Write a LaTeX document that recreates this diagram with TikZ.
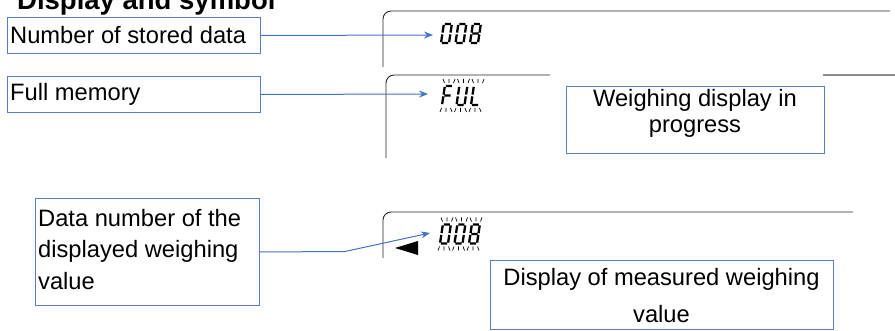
\documentclass[tikz,border=0pt]{standalone}
\usepackage{fontspec}
\setmainfont{Liberation Sans}
\usetikzlibrary{arrows.meta}
\definecolor{cblue}{HTML}{4472C4}
\definecolor{bblue}{HTML}{5A7EC0}
\tikzset{
  box/.style={draw=bblue, line width=1pt, fill=white, inner sep=0pt, anchor=north west},
  txt/.style={inner sep=0pt, font=\fontsize{23.7}{30}\selectfont},
  conn/.style={draw=cblue, line width=1pt, -{Stealth[length=9pt,width=7pt,inset=3pt]}},
  lcdframe/.style={draw=black!85, line width=0.9pt, rounded corners=8pt},
  seg/.style={line width=2.3pt, black},
  ray/.style={line width=0.7pt, black},
}
\newcommand{\sdZero}[2]{\begin{scope}[shift={(#1,#2)},y=1pt,xslant=0.15]
 \draw[seg] (0.9,19)--(7.1,19) (8,18.1)--(8,10.4) (8,8.6)--(8,0.9) (0.9,0)--(7.1,0) (0,0.9)--(0,8.6) (0,10.4)--(0,18.1);\end{scope}}
\newcommand{\sdEight}[2]{\begin{scope}[shift={(#1,#2)},y=1pt,xslant=0.15]
 \draw[seg] (0.9,19)--(7.1,19) (8,18.1)--(8,10.4) (8,8.6)--(8,0.9) (0.9,0)--(7.1,0) (0,0.9)--(0,8.6) (0,10.4)--(0,18.1) (0.9,9.5)--(7.1,9.5);\end{scope}}
\newcommand{\sdF}[2]{\begin{scope}[shift={(#1,#2)},y=1pt,xslant=0.15]
 \draw[seg] (0.9,19)--(7.1,19) (0,0.9)--(0,8.6) (0,10.4)--(0,18.1) (0.9,9.5)--(7.1,9.5);\end{scope}}
\newcommand{\sdU}[2]{\begin{scope}[shift={(#1,#2)},y=1pt,xslant=0.15]
 \draw[seg] (8,18.1)--(8,10.4) (8,8.6)--(8,0.9) (0.9,0)--(7.1,0) (0,0.9)--(0,8.6) (0,10.4)--(0,18.1);\end{scope}}
\newcommand{\sdL}[2]{\begin{scope}[shift={(#1,#2)},y=1pt,xslant=0.15]
 \draw[seg] (0.9,0)--(7.1,0) (0,0.9)--(0,8.6) (0,10.4)--(0,18.1);\end{scope}}
\newcommand{\blink}[2]{%
 \draw[ray] ({#1+1},{#2-26})--({#1+2.5},{#2-22}) ({#1+7},{#2-26})--({#1+7},{#2-22}) ({#1+13},{#2-26})--({#1+11.5},{#2-22})
   ({#1-0.5},{#2+3})--({#1-2},{#2+7}) ({#1+4},{#2+3})--({#1+4},{#2+7}) ({#1+8.5},{#2+3})--({#1+10},{#2+7});}
\begin{document}
\begin{tikzpicture}[x=1pt,y=-1pt]
\useasboundingbox (0,0) rectangle (895,331);
\clip (0,0) rectangle (895,331);

% title (cropped at top, as in the reference)
\node[inner sep=0pt, anchor=base west, font=\bfseries\fontsize{27.5}{30}\selectfont] (title) at (17,10) {Display and symbol};

% LCD frames
\draw[lcdframe] (383,67) -- (383,11) -- (890,11);
\draw[lcdframe] (386,158) -- (386,75) -- (550,75);
\draw[draw=black!45, line width=1.5pt] (823,75) -- (895,75);
\draw[lcdframe] (383,258) -- (383,212) -- (853,212);

% LCD contents
\sdZero{441}{43} \sdZero{455.5}{43} \sdEight{470}{43}
\sdF{442}{105} \sdU{456.5}{105} \sdL{471}{105}
\blink{442}{105} \blink{456.5}{105} \blink{471}{105}
\sdZero{440}{243.5} \sdZero{454.5}{243.5} \sdEight{469}{243.5}
\blink{440}{243.5} \blink{454.5}{243.5} \blink{469}{243.5}
\fill (395,248) -- (418,241) -- (418,255) -- cycle;

% boxes
\node[box, minimum width=253pt, minimum height=36pt] (b1) at (7,17) {};
\node[txt, anchor=base west] (t1) at (10,43.5) {Number of stored data};
\node[box, minimum width=253pt, minimum height=36pt] (b2) at (7,76) {};
\node[txt, anchor=base west] (t2) at (10,101) {Full memory};
\node[box, minimum width=258pt, minimum height=67pt] (b3) at (566,86) {};
\node[txt, anchor=base] (t3a) at (695,107) {Weighing display in};
\node[txt, anchor=base] (t3b) at (695,133) {progress};
\node[box, minimum width=224pt, minimum height=107pt] (b4) at (35,198) {};
\node[txt, anchor=base west] (t4a) at (38,227) {Data number of the};
\node[txt, anchor=base west] (t4b) at (38,258) {displayed weighing};
\node[txt, anchor=base west] (t4c) at (38,290) {value};
\node[box, minimum width=343pt, minimum height=69pt] (b5) at (490,260) {};
\node[txt, anchor=base] (t5a) at (661.5,286) {Display of measured weighing};
\node[txt, anchor=base] (t5b) at (661.5,323) {value};

% connectors
\coordinate (p1) at (433,35);
\coordinate (p2) at (428,94);
\coordinate (k4) at (345,251.5);
\coordinate (p4) at (430,233);
\draw[conn] (b1.east) -- (p1);
\draw[conn] (b2.east) -- (p2);
\draw[conn] (b4.east) -- (k4) -- (p4);
\end{tikzpicture}
\end{document}
